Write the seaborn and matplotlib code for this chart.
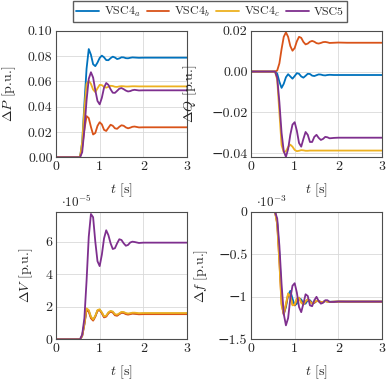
import pandas as pd
import seaborn as sns
import matplotlib.pyplot as plt
from matplotlib.lines import Line2D
from matplotlib.ticker import FuncFormatter

# time samples [s]
t = [0.0, 0.5, 0.55, 0.6, 0.65, 0.7, 0.75, 0.8, 0.85, 0.9, 0.95, 1.0, 1.05, 1.1,
     1.15, 1.2, 1.25, 1.3, 1.35, 1.4, 1.45, 1.5, 1.55, 1.6, 1.65, 1.7, 1.75, 1.8,
     1.9, 2.0, 2.2, 2.5, 3.0]

series = ["VSC4$_a$", "VSC4$_b$", "VSC4$_c$", "VSC5"]
colors = ["#0072BD", "#D95319", "#EDB120", "#7E2F8E"]

# delta P [p.u.]
dP_a = [0, 0, 0, 0.012, 0.042, 0.07, 0.0855, 0.081, 0.0735, 0.072, 0.0748, 0.0785, 0.0803, 0.079,
        0.0768, 0.0767, 0.0783, 0.0795, 0.0788, 0.0776, 0.0781, 0.079, 0.0789, 0.0783, 0.0782,
        0.0786, 0.0789, 0.0788, 0.0786, 0.0787, 0.0787, 0.0787, 0.0787]
dP_b = [0, 0, 0, 0.008, 0.022, 0.0325, 0.031, 0.024, 0.018, 0.0192, 0.0248, 0.0277, 0.026, 0.0217,
        0.0208, 0.0233, 0.0257, 0.0249, 0.0229, 0.0225, 0.0241, 0.0253, 0.0249, 0.0236, 0.0229,
        0.0234, 0.0241, 0.0243, 0.0236, 0.0237, 0.0237, 0.0237, 0.0237]
dP_c = [0, 0, 0, 0.012, 0.038, 0.058, 0.0605, 0.058, 0.0535, 0.0515, 0.0545, 0.0572, 0.057, 0.0556,
        0.055, 0.0557, 0.0565, 0.0563, 0.0557, 0.0556, 0.056, 0.0562, 0.0561, 0.0559, 0.0559,
        0.056, 0.0561, 0.0561, 0.056, 0.056, 0.056, 0.056, 0.056]
dP_5 = [0, 0, 0, 0.004, 0.022, 0.045, 0.062, 0.0672, 0.063, 0.053, 0.0445, 0.0418, 0.047, 0.055,
        0.0587, 0.0572, 0.0537, 0.051, 0.0509, 0.0525, 0.0542, 0.0547, 0.0538, 0.0527, 0.052,
        0.0523, 0.053, 0.0533, 0.0528, 0.0529, 0.0529, 0.0529, 0.0529]

# delta Q [p.u.]
dQ_a = [0, 0, 0, -0.001, -0.005, -0.008, -0.006, -0.0028, -0.0013, -0.0024, -0.0035, -0.0022,
        -0.0008, -0.0011, -0.0024, -0.003, -0.0021, -0.0011, -0.0012, -0.002, -0.0022, -0.0018,
        -0.0014, -0.0015, -0.0018, -0.0019, -0.0017, -0.0016, -0.0017, -0.0017, -0.0017,
        -0.0017, -0.0017]
dQ_b = [0, 0, 0, 0.0005, 0.004, 0.011, 0.017, 0.0192, 0.017, 0.0125, 0.0102, 0.0115, 0.0148, 0.017,
        0.0165, 0.0145, 0.0133, 0.0137, 0.0146, 0.015, 0.0146, 0.0139, 0.0137, 0.014, 0.0144,
        0.0145, 0.0143, 0.014, 0.0141, 0.0142, 0.0141, 0.0141, 0.0141]
dQ_c = [0, 0, 0, -0.004, -0.02, -0.036, -0.0395, -0.039, -0.037, -0.0358, -0.0368, -0.0384, -0.039,
        -0.0388, -0.0385, -0.0386, -0.0388, -0.0388, -0.0387, -0.0387, -0.0387, -0.0387, -0.0387,
        -0.0387, -0.0387, -0.0387, -0.0387, -0.0387, -0.0387, -0.0387, -0.0387, -0.0387, -0.0387]
dQ_5 = [0, 0, 0, -0.003, -0.015, -0.03, -0.039, -0.0418, -0.038, -0.031, -0.026, -0.0248, -0.029,
        -0.035, -0.0368, -0.033, -0.0296, -0.031, -0.0345, -0.0345, -0.032, -0.031, -0.0325,
        -0.0335, -0.033, -0.032, -0.0322, -0.0327, -0.0325, -0.0324, -0.0324, -0.0324, -0.0324]

# delta V [1e-5 p.u.]
dV_a = [0, 0, 0, 0.22, 0.95, 1.85, 1.75, 1.35, 1.18, 1.42, 1.77, 1.82, 1.63, 1.38, 1.43, 1.63, 1.72,
        1.68, 1.51, 1.48, 1.57, 1.66, 1.65, 1.58, 1.55, 1.58, 1.61, 1.6, 1.57, 1.58, 1.58, 1.58, 1.58]
dV_b = [0, 0, 0, 0.2, 0.9, 1.8, 1.7, 1.3, 1.15, 1.4, 1.75, 1.8, 1.6, 1.35, 1.4, 1.6, 1.7, 1.65,
        1.48, 1.45, 1.55, 1.63, 1.62, 1.55, 1.52, 1.55, 1.58, 1.57, 1.54, 1.55, 1.55, 1.55, 1.55]
dV_c = [0, 0, 0, 0.25, 1.0, 1.9, 1.8, 1.4, 1.22, 1.45, 1.8, 1.85, 1.66, 1.42, 1.46, 1.66, 1.75,
        1.71, 1.55, 1.52, 1.6, 1.69, 1.68, 1.62, 1.59, 1.61, 1.64, 1.64, 1.61, 1.62, 1.62, 1.62, 1.62]
dV_5 = [0, 0, 0, 0.3, 1.3, 3.6, 6.3, 7.7, 7.5, 6.0, 4.8, 4.5, 5.2, 6.2, 6.7, 6.4, 5.9, 5.55, 5.6,
        5.9, 6.15, 6.1, 5.9, 5.75, 5.8, 5.95, 6.0, 5.98, 5.92, 5.94, 5.94, 5.94, 5.94]

# delta f [1e-3 p.u.]
df_a = [0, 0, 0, -0.12, -0.5, -1.0, -1.2, -1.12, -0.98, -0.93, -1.02, -1.1, -1.08, -1.02, -1.03,
        -1.08, -1.08, -1.04, -1.04, -1.07, -1.07, -1.05, -1.05, -1.06, -1.06, -1.05, -1.055,
        -1.058, -1.057, -1.056, -1.056, -1.056, -1.056]
df_b = [0, 0, 0, -0.14, -0.58, -1.08, -1.21, -1.1, -0.97, -0.99, -1.09, -1.1, -1.03, -1.01, -1.06,
        -1.09, -1.06, -1.03, -1.05, -1.08, -1.07, -1.05, -1.05, -1.06, -1.06, -1.05, -1.055,
        -1.06, -1.057, -1.056, -1.056, -1.056, -1.056]
df_c = [0, 0, 0, -0.15, -0.6, -1.1, -1.2, -1.08, -0.96, -1.0, -1.1, -1.09, -1.02, -1.01, -1.07,
        -1.09, -1.05, -1.03, -1.06, -1.08, -1.06, -1.045, -1.055, -1.065, -1.06, -1.05, -1.055,
        -1.06, -1.057, -1.056, -1.056, -1.056, -1.056]
df_5 = [0, 0, 0, -0.08, -0.4, -0.85, -1.2, -1.335, -1.25, -1.02, -0.87, -0.84, -0.95, -1.12, -1.18,
        -1.08, -0.97, -0.99, -1.1, -1.11, -1.04, -1.0, -1.05, -1.08, -1.07, -1.04, -1.04, -1.06,
        -1.06, -1.055, -1.056, -1.056, -1.056]


def long_frame(cols):
    frames = [pd.DataFrame({"t": t, "value": v, "series": name}) for name, v in zip(series, cols)]
    return pd.concat(frames, ignore_index=True)


def tick_text(fmt):
    # plain text labels, real minus sign taken from the fallback font
    return FuncFormatter(lambda v, p: fmt.format(v + 0.0).replace("-", "\u2212"))


sns.set_style("white")
plt.rcParams["mathtext.fontset"] = "cm"
plt.rcParams["font.family"] = ["cmr10", "DejaVu Serif"]
plt.rcParams["axes.formatter.use_mathtext"] = True
plt.rcParams["font.size"] = 10

fig = plt.figure(figsize=(3.9, 3.81), dpi=100)
W, H = 390, 381


def make_axes(x0, y_top, y_bot):
    return fig.add_axes([x0 / W, 1 - y_bot / H, 131 / W, (y_bot - y_top) / H])


panels = [
    (make_axes(56, 30.7, 157.3), [dP_a, dP_b, dP_c, dP_5], r"$\Delta P$ [p.u.]",
     (0, 0.1), [0, 0.02, 0.04, 0.06, 0.08, 0.1], "{:.2f}", None, -0.29),
    (make_axes(251, 30.7, 157.3), [dQ_a, dQ_b, dQ_c, dQ_5], r"$\Delta Q$ [p.u.]",
     (-0.042, 0.02), [-0.04, -0.02, 0, 0.02], "{:.2f}", None, -0.40),
    (make_axes(56, 211.7, 339.4), [dV_a, dV_b, dV_c, dV_5], r"$\Delta V$ [p.u.]",
     (0, 7.84), [0, 2, 4, 6], "{:g}", r"$\cdot 10^{-5}$", -0.16),
    (make_axes(251, 211.7, 339.4), [df_a, df_b, df_c, df_5], r"$\Delta f$ [p.u.]",
     (-1.5, 0), [-1.5, -1, -0.5, 0], "{:g}", r"$\cdot 10^{-3}$", -0.31),
]

for ax, cols, ylabel, ylim, yticks, fmt, offset, ylab_x in panels:
    sns.lineplot(data=long_frame(cols), x="t", y="value", hue="series",
                 palette=dict(zip(series, colors)), linewidth=1.3, legend=False, ax=ax)
    ax.set_xlim(0, 3)
    ax.set_ylim(*ylim)
    ax.set_xticks([0, 1, 2, 3])
    ax.set_yticks(yticks)
    ax.xaxis.set_major_formatter(tick_text("{:g}"))
    ax.yaxis.set_major_formatter(tick_text(fmt))
    ax.grid(True, color="#d9d9d9", linewidth=0.6)
    ax.set_axisbelow(True)
    for sp in ax.spines.values():
        sp.set_color("#4d4d4d")
        sp.set_linewidth(0.8)
    ax.tick_params(direction="in", length=2.5, width=0.6, color="#4d4d4d",
                   labelsize=10, pad=2.5)
    ax.set_xlabel(r"$t$ [s]", fontsize=10)
    ax.set_ylabel(ylabel, fontsize=10)
    ax.xaxis.set_label_coords(0.5, -0.19)
    ax.yaxis.set_label_coords(ylab_x, 0.5)
    if offset:
        ax.text(0.04, 1.01, offset, transform=ax.transAxes, fontsize=9.5,
                ha="left", va="bottom")

handles = [Line2D([], [], color=c, lw=1.3) for c in colors]
fig.legend(handles, series, loc="upper center", bbox_to_anchor=(0.538, 1.0), ncol=4,
           frameon=True, fancybox=False, edgecolor="#333333", fontsize=8.6,
           handlelength=1.9, handletextpad=0.4, columnspacing=0.5, borderpad=0.3,
           borderaxespad=0.1)

fig.savefig("out.png", dpi=100)
